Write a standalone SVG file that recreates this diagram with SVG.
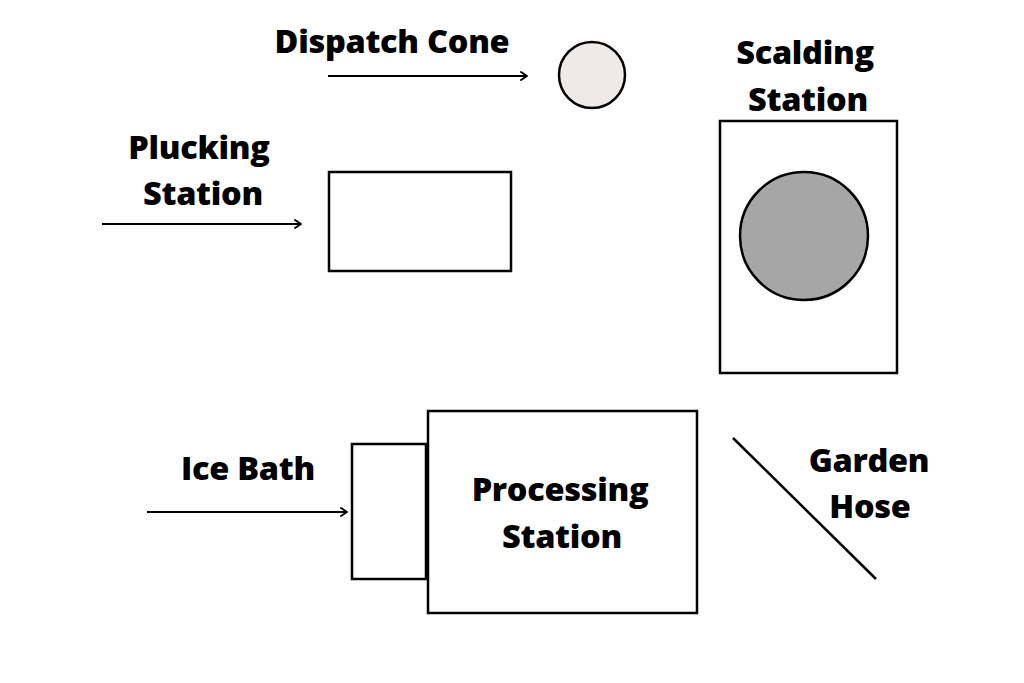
<svg xmlns="http://www.w3.org/2000/svg" width="1024" height="683" viewBox="0 0 1024 683">
<style>
.lbl{font-family:"Open Sans","Liberation Sans",sans-serif;font-weight:800;font-size:32.5px;fill:#000;text-anchor:middle;letter-spacing:-0.3px}
.box{fill:#fff;stroke:#000;stroke-width:2.5}
.conn{stroke:#000;stroke-width:2;fill:none}
</style>
<defs>
<marker id="arr" markerWidth="12" markerHeight="12" refX="9" refY="6" orient="auto" markerUnits="userSpaceOnUse">
<path d="M3,2 L9,6 L3,10" fill="none" stroke="#000" stroke-width="2" stroke-linecap="round" stroke-linejoin="round"/>
</marker>
</defs>
<rect width="1024" height="683" fill="#fff"/>
<g id="dispatch-cone">
<text class="lbl" x="392" y="53">Dispatch Cone</text>
<circle cx="592" cy="75" r="33" fill="#eeeae8" stroke="#000" stroke-width="2.5"/>
</g>
<g id="plucking-station">
<text class="lbl" x="199" y="159">Plucking</text>
<text class="lbl" x="203" y="205">Station</text>
<rect class="box" x="329" y="172" width="182" height="99"/>
</g>
<g id="scalding-station">
<text class="lbl" x="805" y="64">Scalding</text>
<text class="lbl" x="808" y="111">Station</text>
<rect class="box" x="720" y="121" width="177" height="252"/>
<circle cx="804" cy="236" r="64" fill="#a6a6a6" stroke="#000" stroke-width="2.5"/>
</g>
<g id="ice-bath">
<text class="lbl" x="248" y="480">Ice Bath</text>
<rect class="box" x="352" y="444" width="74" height="135"/>
</g>
<g id="processing-station">
<rect class="box" x="428" y="411" width="269" height="202"/>
<text class="lbl" x="560" y="501">Processing</text>
<text class="lbl" x="562" y="548">Station</text>
</g>
<g id="garden-hose">
<line x1="733" y1="438" x2="876" y2="579" stroke="#000" stroke-width="2.5"/>
<text class="lbl" x="869" y="472">Garden</text>
<text class="lbl" x="870" y="518">Hose</text>
</g>
<g id="connectors">
<line class="conn" x1="328" y1="76" x2="527" y2="76" marker-end="url(#arr)"/>
<line class="conn" x1="102" y1="224" x2="301" y2="224" marker-end="url(#arr)"/>
<line class="conn" x1="147" y1="512" x2="347" y2="512" marker-end="url(#arr)"/>
</g>
</svg>
